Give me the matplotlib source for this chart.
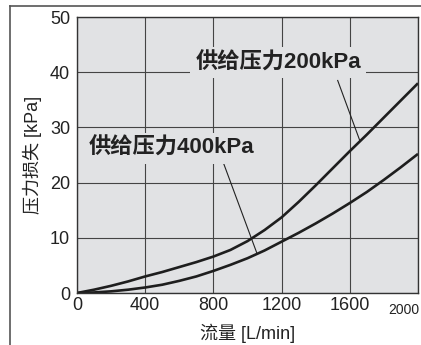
import matplotlib
matplotlib.use("Agg")
import matplotlib.pyplot as plt
from matplotlib.lines import Line2D
import matplotlib.transforms as mtransforms

flow = [0, 100, 200, 300, 400, 500, 600, 700, 800, 900, 1000,
        1100, 1200, 1300, 1400, 1500, 1600, 1700, 1800, 1900, 2000]
p200 = [0, 0.6, 1.3, 2.1, 3.0, 3.8, 4.7, 5.6, 6.6, 7.8, 9.4,
        11.4, 13.7, 16.5, 19.5, 22.6, 25.7, 28.7, 31.8, 34.9, 38.0]
p400 = [0, 0.1, 0.3, 0.6, 1.0, 1.5, 2.2, 3.0, 4.0, 5.1, 6.3,
        7.7, 9.3, 10.9, 12.6, 14.4, 16.3, 18.3, 20.5, 22.8, 25.2]
xticks = [0, 400, 800, 1200, 1600, 2000]
xticklabels = ["0", "400", "800", "1200", "1600", "2000"]
yticks = [0, 10, 20, 30, 40, 50]
label200 = "供给压力200kPa"
label400 = "供给压力400kPa"

mixed = ['Liberation Sans', 'Noto Sans CJK SC', 'DejaVu Sans']
plt.rcParams['font.family'] = mixed

bg = '#e1e2e4'
ink = '#1e1e1e'

fig = plt.figure(figsize=(4.21, 3.45), dpi=100)
ax = fig.add_axes([77/421, 1-293/345, (418-77)/421, (293-17)/345])
ax.set_facecolor(bg)
ax.set_xlim(0, 2000)
ax.set_ylim(0, 50)
ax.set_xticks(xticks)
ax.set_xticklabels(xticklabels)
ax.set_yticks(yticks)
ax.tick_params(length=0, labelsize=13, colors='#222222')
ax.tick_params(axis='x', pad=3)
ax.tick_params(axis='y', pad=5)
lbl = ax.get_xticklabels()[-1]
lbl.set_fontsize(10)
lbl.set_family(['Liberation Sans Narrow', 'Liberation Sans'])
lbl.set_transform(lbl.get_transform() + mtransforms.ScaledTranslation(-14/100, -6/100, fig.dpi_scale_trans))
ax.grid(True, color='#444444', lw=0.8)
ax.set_axisbelow(True)
for s in ax.spines.values():
    s.set_color('#333333')
    s.set_linewidth(1.0)

ax.plot(flow, p200, color=ink, lw=1.9, solid_capstyle='butt', solid_joinstyle='round')
ax.plot(flow, p400, color=ink, lw=1.9, solid_capstyle='butt', solid_joinstyle='round')

ax.text(1180, 41.7, label200, fontsize=16, fontweight='bold', family=mixed,
        ha='center', va='center', color='#222222',
        bbox=dict(facecolor=bg, edgecolor='none', pad=3.5))
ax.text(557, 26.2, label400, fontsize=16, fontweight='bold', family=mixed,
        ha='center', va='center', color='#222222',
        bbox=dict(facecolor=bg, edgecolor='none', pad=3.5))
ax.plot([1529, 1660], [38.5, 27.5], color='#222222', lw=0.8)
ax.plot([856, 1054], [23.8, 7.3], color='#222222', lw=0.8)

ax.set_xlabel("流量 [L/min]", fontsize=13, family=mixed, labelpad=5, color='#222222')
ax.set_ylabel("压力损失 [kPa]", fontsize=13, family=mixed, labelpad=6, color='#222222')

fig.add_artist(Line2D([10/421, 10/421], [0, 1-6/345], color='#555555', lw=1.2))
fig.add_artist(Line2D([10/421, 1], [1-6/345, 1-6/345], color='#555555', lw=1.2))

fig.savefig("out.png", dpi=100)
